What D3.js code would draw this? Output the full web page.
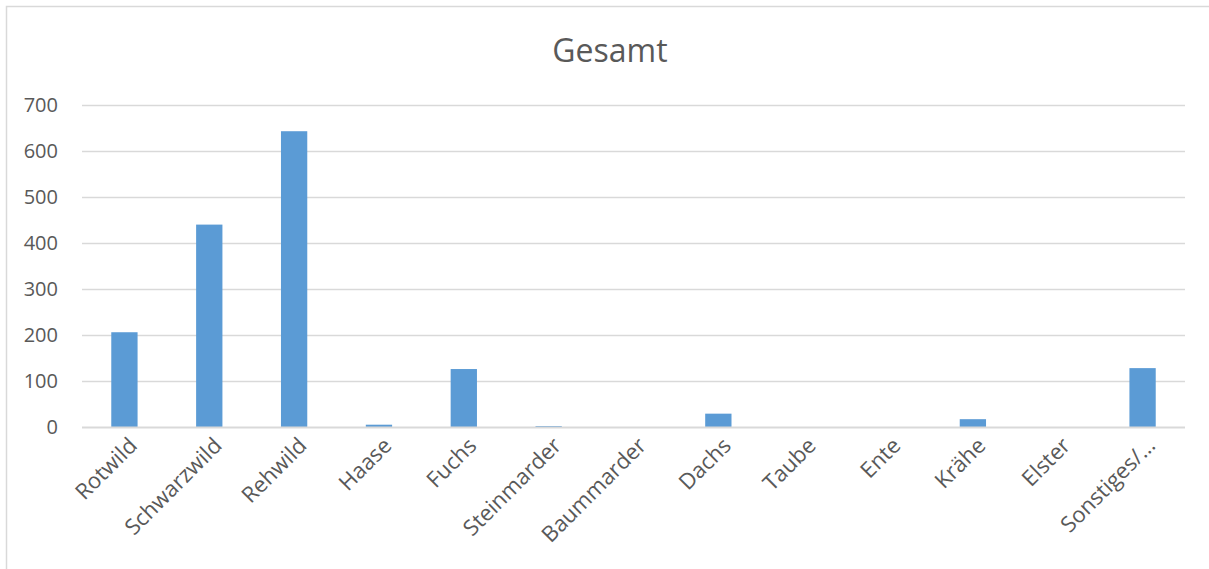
<!DOCTYPE html>
<html>
<head>
<meta charset="utf-8">
<script src="https://cdn.jsdelivr.net/npm/d3@7"></script>
<style>
  html, body { margin: 0; padding: 0; background: #fff; }
  svg { display: block; font-family: "Open Sans", "Noto Sans", sans-serif; }
</style>
</head>
<body>
<svg id="chart" width="1209" height="569"></svg>
<script>
const categories = ["Rotwild", "Schwarzwild", "Rehwild", "Haase", "Fuchs", "Steinmarder", "Baummarder", "Dachs", "Taube", "Ente", "Krähe", "Elster", "Sonstiges/…"];
const values = [206, 440, 643, 5, 126, 2, 0, 29, 0, 0, 17, 0, 128];
const yTicks = [0, 100, 200, 300, 400, 500, 600, 700];
const title = "Gesamt";

const svg = d3.select("#chart");
const W = 1209, H = 569;
const margin = { left: 82, right: 24, top: 105, bottom: 142 };
const plotW = W - margin.left - margin.right;
const plotH = H - margin.top - margin.bottom;

// outer chart border
svg.append("rect")
  .attr("x", 6.5).attr("y", 6.5)
  .attr("width", W + 10).attr("height", H + 10)
  .attr("fill", "none").attr("stroke", "#d9d9d9").attr("stroke-width", 1.5);

const x = d3.scaleBand().domain(categories).range([margin.left, margin.left + plotW]).paddingInner(0.69).paddingOuter(0.345);
const y = d3.scaleLinear().domain([0, 700]).range([margin.top + plotH, margin.top]);

// title
svg.append("text")
  .attr("x", 610).attr("y", 62)
  .attr("text-anchor", "middle")
  .attr("font-size", 32)
  .attr("fill", "#595959")
  .text(title);

// gridlines
svg.append("g")
  .selectAll("line")
  .data(yTicks.filter(d => d !== 0))
  .join("line")
  .attr("x1", margin.left).attr("x2", margin.left + plotW)
  .attr("y1", d => Math.round(y(d)) + 0.5).attr("y2", d => Math.round(y(d)) + 0.5)
  .attr("stroke", "#d9d9d9").attr("stroke-width", 1.5);

// y tick labels via axis
const yAxis = svg.append("g")
  .attr("transform", `translate(${margin.left},0)`)
  .call(d3.axisLeft(y).tickValues(yTicks).tickSize(0).tickPadding(24));
yAxis.select(".domain").remove();
yAxis.selectAll("text")
  .attr("font-size", 20)
  .attr("font-family", "'Open Sans', sans-serif")
  .attr("fill", "#595959");

// bars
svg.append("g")
  .selectAll("rect")
  .data(values)
  .join("rect")
  .attr("x", (d, i) => x(categories[i]))
  .attr("width", x.bandwidth())
  .attr("y", d => y(d))
  .attr("height", d => y(0) - y(d))
  .attr("fill", "#5b9bd5");

// x axis baseline
svg.append("line")
  .attr("x1", margin.left).attr("x2", margin.left + plotW)
  .attr("y1", y(0) + 0.5).attr("y2", y(0) + 0.5)
  .attr("stroke", "#d9d9d9").attr("stroke-width", 2);

// x labels
const xAxis = svg.append("g")
  .attr("transform", `translate(0,${y(0)})`)
  .call(d3.axisBottom(x).tickSize(0).tickPadding(0));
xAxis.select(".domain").remove();
xAxis.selectAll("text")
  .attr("font-size", 22)
  .attr("font-family", "'Open Sans', sans-serif")
  .attr("fill", "#595959")
  .attr("text-anchor", "end")
  .attr("dy", null)
  .attr("transform", "translate(14,20) rotate(-45)");
</script>
</body>
</html>
